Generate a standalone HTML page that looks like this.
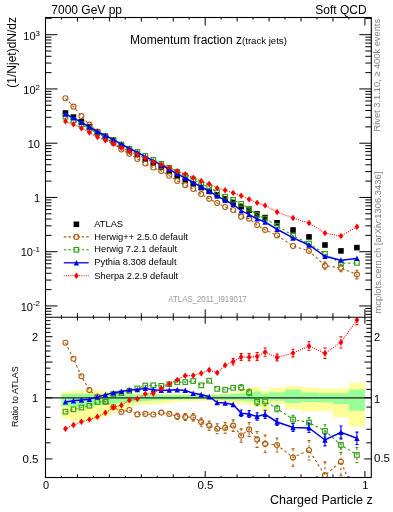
<!DOCTYPE html>
<html><head><meta charset="utf-8"><style>html,body{margin:0;padding:0;background:#fff;width:393px;height:512px;overflow:hidden}</style></head><body><svg width="393" height="512" viewBox="0 0 393 512" style="display:block;filter:grayscale(0.001)">
<rect width="393" height="512" fill="#fff"/>
<path d="M61.47,391.90 L69.45,391.90 L69.45,391.10 L77.44,391.10 L77.44,390.60 L85.42,390.60 L85.42,390.10 L93.41,390.10 L93.41,390.50 L101.39,390.50 L101.39,391.00 L109.38,391.00 L109.38,391.50 L117.37,391.50 L117.37,392.00 L125.35,392.00 L125.35,392.50 L133.33,392.50 L133.33,393.00 L141.32,393.00 L141.32,393.00 L149.31,393.00 L149.31,393.00 L157.29,393.00 L157.29,393.30 L165.27,393.30 L165.27,393.50 L173.26,393.50 L173.26,393.60 L181.24,393.60 L181.24,393.80 L189.23,393.80 L189.23,393.80 L197.22,393.80 L197.22,393.80 L205.20,393.80 L205.20,393.80 L213.19,393.80 L213.19,393.60 L221.17,393.60 L221.17,393.30 L229.16,393.30 L229.16,392.50 L237.14,392.50 L237.14,391.00 L245.13,391.00 L245.13,387.80 L253.11,387.80 L253.11,386.90 L261.10,386.90 L261.10,390.80 L269.08,390.80 L269.08,387.80 L285.05,387.80 L285.05,386.00 L301.02,386.00 L301.02,387.60 L316.99,387.60 L316.99,388.60 L332.96,388.60 L332.96,388.60 L348.93,388.60 L348.93,382.80 L364.90,382.80 L364.90,426.40 L348.93,426.40 L348.93,417.40 L332.96,417.40 L332.96,411.00 L316.99,411.00 L316.99,411.50 L301.02,411.50 L301.02,409.20 L285.05,409.20 L285.05,403.80 L269.08,403.80 L269.08,412.80 L261.10,412.80 L261.10,406.50 L253.11,406.50 L253.11,404.70 L245.13,404.70 L245.13,403.50 L237.14,403.50 L237.14,402.50 L229.16,402.50 L229.16,402.00 L221.17,402.00 L221.17,401.50 L213.19,401.50 L213.19,401.00 L205.20,401.00 L205.20,401.00 L197.22,401.00 L197.22,401.00 L189.23,401.00 L189.23,401.50 L181.24,401.50 L181.24,402.00 L173.26,402.00 L173.26,403.00 L165.27,403.00 L165.27,403.50 L157.29,403.50 L157.29,404.00 L149.31,404.00 L149.31,404.50 L141.32,404.50 L141.32,405.00 L133.33,405.00 L133.33,407.00 L125.35,407.00 L125.35,410.00 L117.37,410.00 L117.37,413.00 L109.38,413.00 L109.38,416.50 L101.39,416.50 L101.39,419.50 L93.41,419.50 L93.41,421.00 L85.42,421.00 L85.42,421.00 L77.44,421.00 L77.44,421.00 L69.45,421.00 L69.45,418.60 L61.47,418.60Z" fill="#ffff99"/>
<path d="M61.47,394.00 L69.45,394.00 L69.45,393.70 L77.44,393.70 L77.44,393.70 L85.42,393.70 L85.42,393.70 L93.41,393.70 L93.41,394.00 L101.39,394.00 L101.39,394.20 L109.38,394.20 L109.38,394.40 L117.37,394.40 L117.37,394.50 L125.35,394.50 L125.35,394.60 L133.33,394.60 L133.33,394.60 L141.32,394.60 L141.32,394.60 L149.31,394.60 L149.31,394.60 L157.29,394.60 L157.29,394.70 L165.27,394.70 L165.27,394.80 L173.26,394.80 L173.26,394.80 L181.24,394.80 L181.24,394.80 L189.23,394.80 L189.23,394.80 L197.22,394.80 L197.22,394.80 L205.20,394.80 L205.20,394.80 L213.19,394.80 L213.19,394.70 L221.17,394.70 L221.17,394.50 L229.16,394.50 L229.16,394.00 L237.14,394.00 L237.14,393.50 L245.13,393.50 L245.13,392.30 L253.11,392.30 L253.11,391.40 L261.10,391.40 L261.10,393.70 L269.08,393.70 L269.08,392.30 L285.05,392.30 L285.05,389.60 L301.02,389.60 L301.02,392.40 L316.99,392.40 L316.99,393.30 L332.96,393.30 L332.96,393.30 L348.93,393.30 L348.93,389.50 L364.90,389.50 L364.90,410.70 L348.93,410.70 L348.93,404.00 L332.96,404.00 L332.96,402.50 L316.99,402.50 L316.99,402.00 L301.02,402.00 L301.02,403.00 L285.05,403.00 L285.05,400.80 L269.08,400.80 L269.08,400.30 L261.10,400.30 L261.10,402.00 L253.11,402.00 L253.11,401.20 L245.13,401.20 L245.13,400.60 L237.14,400.60 L237.14,400.30 L229.16,400.30 L229.16,400.00 L221.17,400.00 L221.17,399.50 L213.19,399.50 L213.19,399.30 L205.20,399.30 L205.20,399.30 L197.22,399.30 L197.22,399.30 L189.23,399.30 L189.23,399.50 L181.24,399.50 L181.24,399.80 L173.26,399.80 L173.26,400.00 L165.27,400.00 L165.27,400.30 L157.29,400.30 L157.29,400.50 L149.31,400.50 L149.31,401.00 L141.32,401.00 L141.32,402.00 L133.33,402.00 L133.33,402.50 L125.35,402.50 L125.35,403.00 L117.37,403.00 L117.37,404.00 L109.38,404.00 L109.38,405.00 L101.39,405.00 L101.39,405.50 L93.41,405.50 L93.41,406.50 L85.42,406.50 L85.42,406.50 L77.44,406.50 L77.44,406.50 L69.45,406.50 L69.45,406.20 L61.47,406.20Z" fill="#99ff99"/>
<line x1="45.5" y1="397.8" x2="371.3" y2="397.8" stroke="#222" stroke-width="1.2"/>
<defs><clipPath id="cm"><rect x="45.5" y="17.5" width="325.8" height="299.8"/></clipPath><clipPath id="cr"><rect x="45.5" y="317.3" width="325.8" height="160.2"/></clipPath></defs>
<g clip-path="url(#cr)"><polyline points="65.46,342.70 73.45,358.70 81.43,376.30 89.42,390.10 97.40,396.50 105.39,401.70 113.37,407.00 121.36,411.90 129.34,410.00 137.33,414.40 145.31,413.90 153.30,414.50 161.28,412.60 169.27,413.90 177.25,416.40 185.24,417.00 193.22,417.20 201.21,422.10 209.19,425.60 217.18,428.70 225.16,427.90 233.15,425.60 241.13,435.50 249.12,429.40 257.10,439.40 265.09,443.90 277.06,445.00 293.03,457.50 309.00,450.20 324.97,475.20 340.94,461.70 356.91,498.80" fill="none" stroke="#ac5a0c" stroke-width="1.1" stroke-dasharray="2.5,2.5"/>
<g stroke="#ac5a0c" stroke-width="1.1"><line x1="177.25" y1="413.28" x2="177.25" y2="419.52" stroke-dasharray="2.5,2.5"/><line x1="175.75" y1="413.28" x2="178.75" y2="413.28"/><line x1="175.75" y1="419.52" x2="178.75" y2="419.52"/><line x1="185.24" y1="413.59" x2="185.24" y2="420.41" stroke-dasharray="2.5,2.5"/><line x1="183.74" y1="413.59" x2="186.74" y2="413.59"/><line x1="183.74" y1="420.41" x2="186.74" y2="420.41"/><line x1="193.22" y1="413.50" x2="193.22" y2="420.90" stroke-dasharray="2.5,2.5"/><line x1="191.72" y1="413.50" x2="194.72" y2="413.50"/><line x1="191.72" y1="420.90" x2="194.72" y2="420.90"/><line x1="201.21" y1="417.98" x2="201.21" y2="426.22" stroke-dasharray="2.5,2.5"/><line x1="199.71" y1="417.98" x2="202.71" y2="417.98"/><line x1="199.71" y1="426.22" x2="202.71" y2="426.22"/><line x1="209.19" y1="421.04" x2="209.19" y2="430.16" stroke-dasharray="2.5,2.5"/><line x1="207.69" y1="421.04" x2="210.69" y2="421.04"/><line x1="207.69" y1="430.16" x2="210.69" y2="430.16"/><line x1="217.18" y1="423.71" x2="217.18" y2="433.69" stroke-dasharray="2.5,2.5"/><line x1="215.68" y1="423.71" x2="218.68" y2="423.71"/><line x1="215.68" y1="433.69" x2="218.68" y2="433.69"/><line x1="225.16" y1="422.48" x2="225.16" y2="433.32" stroke-dasharray="2.5,2.5"/><line x1="223.66" y1="422.48" x2="226.66" y2="422.48"/><line x1="223.66" y1="433.32" x2="226.66" y2="433.32"/><line x1="233.15" y1="419.83" x2="233.15" y2="431.37" stroke-dasharray="2.5,2.5"/><line x1="231.65" y1="419.83" x2="234.65" y2="419.83"/><line x1="231.65" y1="431.37" x2="234.65" y2="431.37"/><line x1="241.13" y1="428.84" x2="241.13" y2="442.16" stroke-dasharray="2.5,2.5"/><line x1="239.63" y1="428.84" x2="242.63" y2="428.84"/><line x1="239.63" y1="442.16" x2="242.63" y2="442.16"/><line x1="249.12" y1="422.46" x2="249.12" y2="436.34" stroke-dasharray="2.5,2.5"/><line x1="247.62" y1="422.46" x2="250.62" y2="422.46"/><line x1="247.62" y1="436.34" x2="250.62" y2="436.34"/><line x1="257.10" y1="431.45" x2="257.10" y2="447.35" stroke-dasharray="2.5,2.5"/><line x1="255.60" y1="431.45" x2="258.60" y2="431.45"/><line x1="255.60" y1="447.35" x2="258.60" y2="447.35"/><line x1="265.09" y1="435.08" x2="265.09" y2="452.72" stroke-dasharray="2.5,2.5"/><line x1="263.59" y1="435.08" x2="266.59" y2="435.08"/><line x1="263.59" y1="452.72" x2="266.59" y2="452.72"/><line x1="277.06" y1="437.99" x2="277.06" y2="452.01" stroke-dasharray="2.5,2.5"/><line x1="275.56" y1="437.99" x2="278.56" y2="437.99"/><line x1="275.56" y1="452.01" x2="278.56" y2="452.01"/><line x1="293.03" y1="448.74" x2="293.03" y2="466.26" stroke-dasharray="2.5,2.5"/><line x1="291.53" y1="448.74" x2="294.53" y2="448.74"/><line x1="291.53" y1="466.26" x2="294.53" y2="466.26"/><line x1="309.00" y1="440.47" x2="309.00" y2="459.93" stroke-dasharray="2.5,2.5"/><line x1="307.50" y1="440.47" x2="310.50" y2="440.47"/><line x1="307.50" y1="459.93" x2="310.50" y2="459.93"/><line x1="324.97" y1="461.88" x2="324.97" y2="488.52" stroke-dasharray="2.5,2.5"/><line x1="323.47" y1="461.88" x2="326.47" y2="461.88"/><line x1="323.47" y1="488.52" x2="326.47" y2="488.52"/><line x1="340.94" y1="447.72" x2="340.94" y2="475.68" stroke-dasharray="2.5,2.5"/><line x1="339.44" y1="447.72" x2="342.44" y2="447.72"/><line x1="339.44" y1="475.68" x2="342.44" y2="475.68"/><line x1="356.91" y1="482.71" x2="356.91" y2="514.89" stroke-dasharray="2.5,2.5"/><line x1="355.41" y1="482.71" x2="358.41" y2="482.71"/><line x1="355.41" y1="514.89" x2="358.41" y2="514.89"/></g>
<circle cx="65.46" cy="342.70" r="2.5" fill="none" stroke="#ac5a0c" stroke-width="1.1"/>
<circle cx="73.45" cy="358.70" r="2.5" fill="none" stroke="#ac5a0c" stroke-width="1.1"/>
<circle cx="81.43" cy="376.30" r="2.5" fill="none" stroke="#ac5a0c" stroke-width="1.1"/>
<circle cx="89.42" cy="390.10" r="2.5" fill="none" stroke="#ac5a0c" stroke-width="1.1"/>
<circle cx="97.40" cy="396.50" r="2.5" fill="none" stroke="#ac5a0c" stroke-width="1.1"/>
<circle cx="105.39" cy="401.70" r="2.5" fill="none" stroke="#ac5a0c" stroke-width="1.1"/>
<circle cx="113.37" cy="407.00" r="2.5" fill="none" stroke="#ac5a0c" stroke-width="1.1"/>
<circle cx="121.36" cy="411.90" r="2.5" fill="none" stroke="#ac5a0c" stroke-width="1.1"/>
<circle cx="129.34" cy="410.00" r="2.5" fill="none" stroke="#ac5a0c" stroke-width="1.1"/>
<circle cx="137.33" cy="414.40" r="2.5" fill="none" stroke="#ac5a0c" stroke-width="1.1"/>
<circle cx="145.31" cy="413.90" r="2.5" fill="none" stroke="#ac5a0c" stroke-width="1.1"/>
<circle cx="153.30" cy="414.50" r="2.5" fill="none" stroke="#ac5a0c" stroke-width="1.1"/>
<circle cx="161.28" cy="412.60" r="2.5" fill="none" stroke="#ac5a0c" stroke-width="1.1"/>
<circle cx="169.27" cy="413.90" r="2.5" fill="none" stroke="#ac5a0c" stroke-width="1.1"/>
<circle cx="177.25" cy="416.40" r="2.5" fill="none" stroke="#ac5a0c" stroke-width="1.1"/>
<circle cx="185.24" cy="417.00" r="2.5" fill="none" stroke="#ac5a0c" stroke-width="1.1"/>
<circle cx="193.22" cy="417.20" r="2.5" fill="none" stroke="#ac5a0c" stroke-width="1.1"/>
<circle cx="201.21" cy="422.10" r="2.5" fill="none" stroke="#ac5a0c" stroke-width="1.1"/>
<circle cx="209.19" cy="425.60" r="2.5" fill="none" stroke="#ac5a0c" stroke-width="1.1"/>
<circle cx="217.18" cy="428.70" r="2.5" fill="none" stroke="#ac5a0c" stroke-width="1.1"/>
<circle cx="225.16" cy="427.90" r="2.5" fill="none" stroke="#ac5a0c" stroke-width="1.1"/>
<circle cx="233.15" cy="425.60" r="2.5" fill="none" stroke="#ac5a0c" stroke-width="1.1"/>
<circle cx="241.13" cy="435.50" r="2.5" fill="none" stroke="#ac5a0c" stroke-width="1.1"/>
<circle cx="249.12" cy="429.40" r="2.5" fill="none" stroke="#ac5a0c" stroke-width="1.1"/>
<circle cx="257.10" cy="439.40" r="2.5" fill="none" stroke="#ac5a0c" stroke-width="1.1"/>
<circle cx="265.09" cy="443.90" r="2.5" fill="none" stroke="#ac5a0c" stroke-width="1.1"/>
<circle cx="277.06" cy="445.00" r="2.5" fill="none" stroke="#ac5a0c" stroke-width="1.1"/>
<circle cx="293.03" cy="457.50" r="2.5" fill="none" stroke="#ac5a0c" stroke-width="1.1"/>
<circle cx="309.00" cy="450.20" r="2.5" fill="none" stroke="#ac5a0c" stroke-width="1.1"/>
<circle cx="324.97" cy="475.20" r="2.5" fill="none" stroke="#ac5a0c" stroke-width="1.1"/>
<circle cx="340.94" cy="461.70" r="2.5" fill="none" stroke="#ac5a0c" stroke-width="1.1"/>
<circle cx="356.91" cy="498.80" r="2.5" fill="none" stroke="#ac5a0c" stroke-width="1.1"/>
</g>
<g clip-path="url(#cr)"><polyline points="65.46,411.70 73.45,409.30 81.43,407.60 89.42,405.70 97.40,401.90 105.39,401.70 113.37,394.00 121.36,393.10 129.34,390.90 137.33,388.40 145.31,385.50 153.30,385.30 161.28,385.90 169.27,384.20 177.25,382.10 185.24,382.10 193.22,381.00 201.21,385.30 209.19,380.70 217.18,388.90 225.16,389.80 233.15,387.80 241.13,387.50 249.12,392.40 257.10,401.80 265.09,401.50 277.06,408.60 293.03,419.50 309.00,422.60 324.97,430.90 340.94,444.80 356.91,455.00" fill="none" stroke="#359e18" stroke-width="1.1" stroke-dasharray="2.5,2.5"/>
<g stroke="#359e18" stroke-width="1.1"><line x1="241.13" y1="384.46" x2="241.13" y2="390.54" stroke-dasharray="2.5,2.5"/><line x1="239.63" y1="384.46" x2="242.63" y2="384.46"/><line x1="239.63" y1="390.54" x2="242.63" y2="390.54"/><line x1="249.12" y1="389.02" x2="249.12" y2="395.78" stroke-dasharray="2.5,2.5"/><line x1="247.62" y1="389.02" x2="250.62" y2="389.02"/><line x1="247.62" y1="395.78" x2="250.62" y2="395.78"/><line x1="257.10" y1="397.95" x2="257.10" y2="405.65" stroke-dasharray="2.5,2.5"/><line x1="255.60" y1="397.95" x2="258.60" y2="397.95"/><line x1="255.60" y1="405.65" x2="258.60" y2="405.65"/><line x1="265.09" y1="397.34" x2="265.09" y2="405.66" stroke-dasharray="2.5,2.5"/><line x1="263.59" y1="397.34" x2="266.59" y2="397.34"/><line x1="263.59" y1="405.66" x2="266.59" y2="405.66"/><line x1="277.06" y1="405.18" x2="277.06" y2="412.02" stroke-dasharray="2.5,2.5"/><line x1="275.56" y1="405.18" x2="278.56" y2="405.18"/><line x1="275.56" y1="412.02" x2="278.56" y2="412.02"/><line x1="293.03" y1="415.26" x2="293.03" y2="423.74" stroke-dasharray="2.5,2.5"/><line x1="291.53" y1="415.26" x2="294.53" y2="415.26"/><line x1="291.53" y1="423.74" x2="294.53" y2="423.74"/><line x1="309.00" y1="417.61" x2="309.00" y2="427.59" stroke-dasharray="2.5,2.5"/><line x1="307.50" y1="417.61" x2="310.50" y2="417.61"/><line x1="307.50" y1="427.59" x2="310.50" y2="427.59"/><line x1="324.97" y1="424.68" x2="324.97" y2="437.12" stroke-dasharray="2.5,2.5"/><line x1="323.47" y1="424.68" x2="326.47" y2="424.68"/><line x1="323.47" y1="437.12" x2="326.47" y2="437.12"/><line x1="340.94" y1="437.18" x2="340.94" y2="452.42" stroke-dasharray="2.5,2.5"/><line x1="339.44" y1="437.18" x2="342.44" y2="437.18"/><line x1="339.44" y1="452.42" x2="342.44" y2="452.42"/><line x1="356.91" y1="447.47" x2="356.91" y2="462.53" stroke-dasharray="2.5,2.5"/><line x1="355.41" y1="447.47" x2="358.41" y2="447.47"/><line x1="355.41" y1="462.53" x2="358.41" y2="462.53"/></g>
<rect x="63.16" y="409.40" width="4.6" height="4.6" fill="none" stroke="#359e18" stroke-width="1.15"/>
<rect x="71.15" y="407.00" width="4.6" height="4.6" fill="none" stroke="#359e18" stroke-width="1.15"/>
<rect x="79.13" y="405.30" width="4.6" height="4.6" fill="none" stroke="#359e18" stroke-width="1.15"/>
<rect x="87.12" y="403.40" width="4.6" height="4.6" fill="none" stroke="#359e18" stroke-width="1.15"/>
<rect x="95.10" y="399.60" width="4.6" height="4.6" fill="none" stroke="#359e18" stroke-width="1.15"/>
<rect x="103.09" y="399.40" width="4.6" height="4.6" fill="none" stroke="#359e18" stroke-width="1.15"/>
<rect x="111.07" y="391.70" width="4.6" height="4.6" fill="none" stroke="#359e18" stroke-width="1.15"/>
<rect x="119.06" y="390.80" width="4.6" height="4.6" fill="none" stroke="#359e18" stroke-width="1.15"/>
<rect x="127.04" y="388.60" width="4.6" height="4.6" fill="none" stroke="#359e18" stroke-width="1.15"/>
<rect x="135.03" y="386.10" width="4.6" height="4.6" fill="none" stroke="#359e18" stroke-width="1.15"/>
<rect x="143.01" y="383.20" width="4.6" height="4.6" fill="none" stroke="#359e18" stroke-width="1.15"/>
<rect x="151.00" y="383.00" width="4.6" height="4.6" fill="none" stroke="#359e18" stroke-width="1.15"/>
<rect x="158.98" y="383.60" width="4.6" height="4.6" fill="none" stroke="#359e18" stroke-width="1.15"/>
<rect x="166.97" y="381.90" width="4.6" height="4.6" fill="none" stroke="#359e18" stroke-width="1.15"/>
<rect x="174.95" y="379.80" width="4.6" height="4.6" fill="none" stroke="#359e18" stroke-width="1.15"/>
<rect x="182.94" y="379.80" width="4.6" height="4.6" fill="none" stroke="#359e18" stroke-width="1.15"/>
<rect x="190.92" y="378.70" width="4.6" height="4.6" fill="none" stroke="#359e18" stroke-width="1.15"/>
<rect x="198.91" y="383.00" width="4.6" height="4.6" fill="none" stroke="#359e18" stroke-width="1.15"/>
<rect x="206.89" y="378.40" width="4.6" height="4.6" fill="none" stroke="#359e18" stroke-width="1.15"/>
<rect x="214.88" y="386.60" width="4.6" height="4.6" fill="none" stroke="#359e18" stroke-width="1.15"/>
<rect x="222.86" y="387.50" width="4.6" height="4.6" fill="none" stroke="#359e18" stroke-width="1.15"/>
<rect x="230.85" y="385.50" width="4.6" height="4.6" fill="none" stroke="#359e18" stroke-width="1.15"/>
<rect x="238.83" y="385.20" width="4.6" height="4.6" fill="none" stroke="#359e18" stroke-width="1.15"/>
<rect x="246.82" y="390.10" width="4.6" height="4.6" fill="none" stroke="#359e18" stroke-width="1.15"/>
<rect x="254.80" y="399.50" width="4.6" height="4.6" fill="none" stroke="#359e18" stroke-width="1.15"/>
<rect x="262.79" y="399.20" width="4.6" height="4.6" fill="none" stroke="#359e18" stroke-width="1.15"/>
<rect x="274.76" y="406.30" width="4.6" height="4.6" fill="none" stroke="#359e18" stroke-width="1.15"/>
<rect x="290.73" y="417.20" width="4.6" height="4.6" fill="none" stroke="#359e18" stroke-width="1.15"/>
<rect x="306.70" y="420.30" width="4.6" height="4.6" fill="none" stroke="#359e18" stroke-width="1.15"/>
<rect x="322.67" y="428.60" width="4.6" height="4.6" fill="none" stroke="#359e18" stroke-width="1.15"/>
<rect x="338.64" y="442.50" width="4.6" height="4.6" fill="none" stroke="#359e18" stroke-width="1.15"/>
<rect x="354.61" y="452.70" width="4.6" height="4.6" fill="none" stroke="#359e18" stroke-width="1.15"/>
</g>
<g clip-path="url(#cr)"><polyline points="65.46,401.90 73.45,400.70 81.43,400.00 89.42,399.30 97.40,396.90 105.39,394.70 113.37,392.80 121.36,391.50 129.34,389.90 137.33,389.60 145.31,388.40 153.30,389.70 161.28,390.40 169.27,390.10 177.25,389.70 185.24,390.40 193.22,393.30 201.21,394.60 209.19,396.70 217.18,402.50 225.16,403.10 233.15,404.50 241.13,413.20 249.12,414.10 257.10,416.50 265.09,414.30 277.06,422.00 293.03,427.50 309.00,427.90 324.97,440.00 340.94,432.40 356.91,438.30" fill="none" stroke="#0000f0" stroke-width="1.5"/>
<g stroke="#0000f0" stroke-width="1.1"><line x1="241.13" y1="410.02" x2="241.13" y2="416.38"/><line x1="239.63" y1="410.02" x2="242.63" y2="410.02"/><line x1="239.63" y1="416.38" x2="242.63" y2="416.38"/><line x1="249.12" y1="410.64" x2="249.12" y2="417.56"/><line x1="247.62" y1="410.64" x2="250.62" y2="410.64"/><line x1="247.62" y1="417.56" x2="250.62" y2="417.56"/><line x1="257.10" y1="412.71" x2="257.10" y2="420.29"/><line x1="255.60" y1="412.71" x2="258.60" y2="412.71"/><line x1="255.60" y1="420.29" x2="258.60" y2="420.29"/><line x1="265.09" y1="410.25" x2="265.09" y2="418.35"/><line x1="263.59" y1="410.25" x2="266.59" y2="410.25"/><line x1="263.59" y1="418.35" x2="266.59" y2="418.35"/><line x1="277.06" y1="418.66" x2="277.06" y2="425.34"/><line x1="275.56" y1="418.66" x2="278.56" y2="418.66"/><line x1="275.56" y1="425.34" x2="278.56" y2="425.34"/><line x1="293.03" y1="423.49" x2="293.03" y2="431.51"/><line x1="291.53" y1="423.49" x2="294.53" y2="423.49"/><line x1="291.53" y1="431.51" x2="294.53" y2="431.51"/><line x1="309.00" y1="423.24" x2="309.00" y2="432.56"/><line x1="307.50" y1="423.24" x2="310.50" y2="423.24"/><line x1="307.50" y1="432.56" x2="310.50" y2="432.56"/><line x1="324.97" y1="434.08" x2="324.97" y2="445.92"/><line x1="323.47" y1="434.08" x2="326.47" y2="434.08"/><line x1="323.47" y1="445.92" x2="326.47" y2="445.92"/><line x1="340.94" y1="425.97" x2="340.94" y2="438.83"/><line x1="339.44" y1="425.97" x2="342.44" y2="425.97"/><line x1="339.44" y1="438.83" x2="342.44" y2="438.83"/><line x1="356.91" y1="432.10" x2="356.91" y2="444.50"/><line x1="355.41" y1="432.10" x2="358.41" y2="432.10"/><line x1="355.41" y1="444.50" x2="358.41" y2="444.50"/></g>
<path d="M65.46,399.00L68.16,404.60L62.76,404.60Z" fill="#0000f0"/>
<path d="M73.45,397.80L76.15,403.40L70.75,403.40Z" fill="#0000f0"/>
<path d="M81.43,397.10L84.13,402.70L78.73,402.70Z" fill="#0000f0"/>
<path d="M89.42,396.40L92.12,402.00L86.72,402.00Z" fill="#0000f0"/>
<path d="M97.40,394.00L100.10,399.60L94.70,399.60Z" fill="#0000f0"/>
<path d="M105.39,391.80L108.09,397.40L102.69,397.40Z" fill="#0000f0"/>
<path d="M113.37,389.90L116.07,395.50L110.67,395.50Z" fill="#0000f0"/>
<path d="M121.36,388.60L124.06,394.20L118.66,394.20Z" fill="#0000f0"/>
<path d="M129.34,387.00L132.04,392.60L126.64,392.60Z" fill="#0000f0"/>
<path d="M137.33,386.70L140.03,392.30L134.63,392.30Z" fill="#0000f0"/>
<path d="M145.31,385.50L148.01,391.10L142.61,391.10Z" fill="#0000f0"/>
<path d="M153.30,386.80L156.00,392.40L150.60,392.40Z" fill="#0000f0"/>
<path d="M161.28,387.50L163.98,393.10L158.58,393.10Z" fill="#0000f0"/>
<path d="M169.27,387.20L171.97,392.80L166.57,392.80Z" fill="#0000f0"/>
<path d="M177.25,386.80L179.95,392.40L174.55,392.40Z" fill="#0000f0"/>
<path d="M185.24,387.50L187.94,393.10L182.54,393.10Z" fill="#0000f0"/>
<path d="M193.22,390.40L195.92,396.00L190.52,396.00Z" fill="#0000f0"/>
<path d="M201.21,391.70L203.91,397.30L198.51,397.30Z" fill="#0000f0"/>
<path d="M209.19,393.80L211.89,399.40L206.49,399.40Z" fill="#0000f0"/>
<path d="M217.18,399.60L219.88,405.20L214.48,405.20Z" fill="#0000f0"/>
<path d="M225.16,400.20L227.86,405.80L222.46,405.80Z" fill="#0000f0"/>
<path d="M233.15,401.60L235.85,407.20L230.45,407.20Z" fill="#0000f0"/>
<path d="M241.13,410.30L243.83,415.90L238.43,415.90Z" fill="#0000f0"/>
<path d="M249.12,411.20L251.82,416.80L246.42,416.80Z" fill="#0000f0"/>
<path d="M257.10,413.60L259.80,419.20L254.40,419.20Z" fill="#0000f0"/>
<path d="M265.09,411.40L267.79,417.00L262.39,417.00Z" fill="#0000f0"/>
<path d="M277.06,419.10L279.76,424.70L274.36,424.70Z" fill="#0000f0"/>
<path d="M293.03,424.60L295.73,430.20L290.33,430.20Z" fill="#0000f0"/>
<path d="M309.00,425.00L311.70,430.60L306.31,430.60Z" fill="#0000f0"/>
<path d="M324.97,437.10L327.67,442.70L322.27,442.70Z" fill="#0000f0"/>
<path d="M340.94,429.50L343.64,435.10L338.25,435.10Z" fill="#0000f0"/>
<path d="M356.91,435.40L359.61,441.00L354.21,441.00Z" fill="#0000f0"/>
</g>
<g clip-path="url(#cr)"><polyline points="65.46,428.80 73.45,425.00 81.43,421.80 89.42,419.60 97.40,416.80 105.39,412.80 113.37,407.50 121.36,405.20 129.34,400.20 137.33,398.90 145.31,393.90 153.30,393.50 161.28,388.40 169.27,384.00 177.25,379.90 185.24,375.70 193.22,375.50 201.21,373.20 209.19,370.00 217.18,372.80 225.16,365.20 233.15,361.80 241.13,357.00 249.12,357.20 257.10,356.50 265.09,352.10 277.06,357.50 293.03,353.10 309.00,346.00 324.97,353.30 340.94,342.40 356.91,320.00" fill="none" stroke="#ff0000" stroke-width="1.1" stroke-dasharray="1,1.2"/>
<g stroke="#ff0000" stroke-width="1.1"><line x1="233.15" y1="358.64" x2="233.15" y2="364.96" stroke-dasharray="1,1.2"/><line x1="231.65" y1="358.64" x2="234.65" y2="358.64"/><line x1="231.65" y1="364.96" x2="234.65" y2="364.96"/><line x1="241.13" y1="353.65" x2="241.13" y2="360.35" stroke-dasharray="1,1.2"/><line x1="239.63" y1="353.65" x2="242.63" y2="353.65"/><line x1="239.63" y1="360.35" x2="242.63" y2="360.35"/><line x1="249.12" y1="353.58" x2="249.12" y2="360.82" stroke-dasharray="1,1.2"/><line x1="247.62" y1="353.58" x2="250.62" y2="353.58"/><line x1="247.62" y1="360.82" x2="250.62" y2="360.82"/><line x1="257.10" y1="352.60" x2="257.10" y2="360.40" stroke-dasharray="1,1.2"/><line x1="255.60" y1="352.60" x2="258.60" y2="352.60"/><line x1="255.60" y1="360.40" x2="258.60" y2="360.40"/><line x1="265.09" y1="347.98" x2="265.09" y2="356.22" stroke-dasharray="1,1.2"/><line x1="263.59" y1="347.98" x2="266.59" y2="347.98"/><line x1="263.59" y1="356.22" x2="266.59" y2="356.22"/><line x1="277.06" y1="354.15" x2="277.06" y2="360.85" stroke-dasharray="1,1.2"/><line x1="275.56" y1="354.15" x2="278.56" y2="354.15"/><line x1="275.56" y1="360.85" x2="278.56" y2="360.85"/><line x1="293.03" y1="349.29" x2="293.03" y2="356.91" stroke-dasharray="1,1.2"/><line x1="291.53" y1="349.29" x2="294.53" y2="349.29"/><line x1="291.53" y1="356.91" x2="294.53" y2="356.91"/><line x1="309.00" y1="341.76" x2="309.00" y2="350.24" stroke-dasharray="1,1.2"/><line x1="307.50" y1="341.76" x2="310.50" y2="341.76"/><line x1="307.50" y1="350.24" x2="310.50" y2="350.24"/><line x1="324.97" y1="348.06" x2="324.97" y2="358.54" stroke-dasharray="1,1.2"/><line x1="323.47" y1="348.06" x2="326.47" y2="348.06"/><line x1="323.47" y1="358.54" x2="326.47" y2="358.54"/><line x1="340.94" y1="336.81" x2="340.94" y2="347.99" stroke-dasharray="1,1.2"/><line x1="339.44" y1="336.81" x2="342.44" y2="336.81"/><line x1="339.44" y1="347.99" x2="342.44" y2="347.99"/><line x1="356.91" y1="315.41" x2="356.91" y2="324.59" stroke-dasharray="1,1.2"/><line x1="355.41" y1="315.41" x2="358.41" y2="315.41"/><line x1="355.41" y1="324.59" x2="358.41" y2="324.59"/></g>
<path d="M65.46,425.60L67.86,428.80L65.46,432.00L63.06,428.80Z" fill="#ff0000"/>
<path d="M73.45,421.80L75.85,425.00L73.45,428.20L71.05,425.00Z" fill="#ff0000"/>
<path d="M81.43,418.60L83.83,421.80L81.43,425.00L79.03,421.80Z" fill="#ff0000"/>
<path d="M89.42,416.40L91.82,419.60L89.42,422.80L87.02,419.60Z" fill="#ff0000"/>
<path d="M97.40,413.60L99.80,416.80L97.40,420.00L95.00,416.80Z" fill="#ff0000"/>
<path d="M105.39,409.60L107.79,412.80L105.39,416.00L102.99,412.80Z" fill="#ff0000"/>
<path d="M113.37,404.30L115.77,407.50L113.37,410.70L110.97,407.50Z" fill="#ff0000"/>
<path d="M121.36,402.00L123.76,405.20L121.36,408.40L118.96,405.20Z" fill="#ff0000"/>
<path d="M129.34,397.00L131.74,400.20L129.34,403.40L126.94,400.20Z" fill="#ff0000"/>
<path d="M137.33,395.70L139.73,398.90L137.33,402.10L134.93,398.90Z" fill="#ff0000"/>
<path d="M145.31,390.70L147.71,393.90L145.31,397.10L142.91,393.90Z" fill="#ff0000"/>
<path d="M153.30,390.30L155.70,393.50L153.30,396.70L150.90,393.50Z" fill="#ff0000"/>
<path d="M161.28,385.20L163.68,388.40L161.28,391.60L158.88,388.40Z" fill="#ff0000"/>
<path d="M169.27,380.80L171.67,384.00L169.27,387.20L166.87,384.00Z" fill="#ff0000"/>
<path d="M177.25,376.70L179.65,379.90L177.25,383.10L174.85,379.90Z" fill="#ff0000"/>
<path d="M185.24,372.50L187.64,375.70L185.24,378.90L182.84,375.70Z" fill="#ff0000"/>
<path d="M193.22,372.30L195.62,375.50L193.22,378.70L190.82,375.50Z" fill="#ff0000"/>
<path d="M201.21,370.00L203.61,373.20L201.21,376.40L198.81,373.20Z" fill="#ff0000"/>
<path d="M209.19,366.80L211.59,370.00L209.19,373.20L206.79,370.00Z" fill="#ff0000"/>
<path d="M217.18,369.60L219.58,372.80L217.18,376.00L214.78,372.80Z" fill="#ff0000"/>
<path d="M225.16,362.00L227.56,365.20L225.16,368.40L222.76,365.20Z" fill="#ff0000"/>
<path d="M233.15,358.60L235.55,361.80L233.15,365.00L230.75,361.80Z" fill="#ff0000"/>
<path d="M241.13,353.80L243.53,357.00L241.13,360.20L238.73,357.00Z" fill="#ff0000"/>
<path d="M249.12,354.00L251.52,357.20L249.12,360.40L246.72,357.20Z" fill="#ff0000"/>
<path d="M257.10,353.30L259.50,356.50L257.10,359.70L254.70,356.50Z" fill="#ff0000"/>
<path d="M265.09,348.90L267.49,352.10L265.09,355.30L262.69,352.10Z" fill="#ff0000"/>
<path d="M277.06,354.30L279.46,357.50L277.06,360.70L274.66,357.50Z" fill="#ff0000"/>
<path d="M293.03,349.90L295.43,353.10L293.03,356.30L290.63,353.10Z" fill="#ff0000"/>
<path d="M309.00,342.80L311.40,346.00L309.00,349.20L306.61,346.00Z" fill="#ff0000"/>
<path d="M324.97,350.10L327.37,353.30L324.97,356.50L322.57,353.30Z" fill="#ff0000"/>
<path d="M340.94,339.20L343.34,342.40L340.94,345.60L338.55,342.40Z" fill="#ff0000"/>
<path d="M356.91,316.80L359.31,320.00L356.91,323.20L354.51,320.00Z" fill="#ff0000"/>
</g>
<g clip-path="url(#cm)">
<rect x="62.66" y="110.20" width="5.6" height="5.6" fill="#000"/>
<rect x="70.65" y="114.30" width="5.6" height="5.6" fill="#000"/>
<rect x="78.63" y="119.00" width="5.6" height="5.6" fill="#000"/>
<rect x="86.62" y="123.90" width="5.6" height="5.6" fill="#000"/>
<rect x="94.60" y="129.20" width="5.6" height="5.6" fill="#000"/>
<rect x="102.59" y="133.50" width="5.6" height="5.6" fill="#000"/>
<rect x="110.57" y="138.10" width="5.6" height="5.6" fill="#000"/>
<rect x="118.56" y="143.00" width="5.6" height="5.6" fill="#000"/>
<rect x="126.54" y="147.80" width="5.6" height="5.6" fill="#000"/>
<rect x="134.53" y="151.70" width="5.6" height="5.6" fill="#000"/>
<rect x="142.51" y="156.40" width="5.6" height="5.6" fill="#000"/>
<rect x="150.50" y="160.30" width="5.6" height="5.6" fill="#000"/>
<rect x="158.48" y="164.30" width="5.6" height="5.6" fill="#000"/>
<rect x="166.47" y="168.60" width="5.6" height="5.6" fill="#000"/>
<rect x="174.45" y="173.20" width="5.6" height="5.6" fill="#000"/>
<rect x="182.44" y="177.20" width="5.6" height="5.6" fill="#000"/>
<rect x="190.42" y="181.00" width="5.6" height="5.6" fill="#000"/>
<rect x="198.41" y="184.80" width="5.6" height="5.6" fill="#000"/>
<rect x="206.39" y="188.60" width="5.6" height="5.6" fill="#000"/>
<rect x="214.38" y="192.00" width="5.6" height="5.6" fill="#000"/>
<rect x="222.36" y="196.10" width="5.6" height="5.6" fill="#000"/>
<rect x="230.35" y="199.70" width="5.6" height="5.6" fill="#000"/>
<rect x="238.33" y="203.80" width="5.6" height="5.6" fill="#000"/>
<rect x="246.32" y="207.40" width="5.6" height="5.6" fill="#000"/>
<rect x="254.30" y="211.10" width="5.6" height="5.6" fill="#000"/>
<rect x="262.29" y="214.80" width="5.6" height="5.6" fill="#000"/>
<rect x="274.26" y="220.00" width="5.6" height="5.6" fill="#000"/>
<rect x="290.23" y="227.20" width="5.6" height="5.6" fill="#000"/>
<rect x="306.20" y="234.10" width="5.6" height="5.6" fill="#000"/>
<rect x="322.17" y="242.20" width="5.6" height="5.6" fill="#000"/>
<rect x="338.14" y="248.10" width="5.6" height="5.6" fill="#000"/>
<rect x="354.11" y="244.80" width="5.6" height="5.6" fill="#000"/>
</g>
<g clip-path="url(#cm)"><polyline points="65.46,98.27 73.45,106.65 81.43,116.05 89.42,124.64 97.40,131.65 105.39,137.34 113.37,143.36 121.36,149.57 129.34,153.86 137.33,158.94 145.31,163.50 153.30,167.56 161.28,171.06 169.27,175.70 177.25,180.97 185.24,185.13 193.22,188.98 201.21,194.09 209.19,198.83 217.18,203.06 225.16,206.94 233.15,209.93 241.13,216.67 249.12,218.64 257.10,225.02 265.09,229.92 277.06,235.41 293.03,245.95 309.00,250.90 324.97,265.68 340.94,267.98 356.91,274.59" fill="none" stroke="#ac5a0c" stroke-width="1.1" stroke-dasharray="2.5,2.5"/>
<g stroke="#ac5a0c" stroke-width="1.1"><line x1="324.97" y1="262.12" x2="324.97" y2="269.24" stroke-dasharray="2.5,2.5"/><line x1="323.47" y1="262.12" x2="326.47" y2="262.12"/><line x1="323.47" y1="269.24" x2="326.47" y2="269.24"/><line x1="340.94" y1="264.24" x2="340.94" y2="271.71" stroke-dasharray="2.5,2.5"/><line x1="339.44" y1="264.24" x2="342.44" y2="264.24"/><line x1="339.44" y1="271.71" x2="342.44" y2="271.71"/><line x1="356.91" y1="270.29" x2="356.91" y2="278.89" stroke-dasharray="2.5,2.5"/><line x1="355.41" y1="270.29" x2="358.41" y2="270.29"/><line x1="355.41" y1="278.89" x2="358.41" y2="278.89"/></g>
<circle cx="65.46" cy="98.27" r="2.5" fill="none" stroke="#ac5a0c" stroke-width="1.1"/>
<circle cx="73.45" cy="106.65" r="2.5" fill="none" stroke="#ac5a0c" stroke-width="1.1"/>
<circle cx="81.43" cy="116.05" r="2.5" fill="none" stroke="#ac5a0c" stroke-width="1.1"/>
<circle cx="89.42" cy="124.64" r="2.5" fill="none" stroke="#ac5a0c" stroke-width="1.1"/>
<circle cx="97.40" cy="131.65" r="2.5" fill="none" stroke="#ac5a0c" stroke-width="1.1"/>
<circle cx="105.39" cy="137.34" r="2.5" fill="none" stroke="#ac5a0c" stroke-width="1.1"/>
<circle cx="113.37" cy="143.36" r="2.5" fill="none" stroke="#ac5a0c" stroke-width="1.1"/>
<circle cx="121.36" cy="149.57" r="2.5" fill="none" stroke="#ac5a0c" stroke-width="1.1"/>
<circle cx="129.34" cy="153.86" r="2.5" fill="none" stroke="#ac5a0c" stroke-width="1.1"/>
<circle cx="137.33" cy="158.94" r="2.5" fill="none" stroke="#ac5a0c" stroke-width="1.1"/>
<circle cx="145.31" cy="163.50" r="2.5" fill="none" stroke="#ac5a0c" stroke-width="1.1"/>
<circle cx="153.30" cy="167.56" r="2.5" fill="none" stroke="#ac5a0c" stroke-width="1.1"/>
<circle cx="161.28" cy="171.06" r="2.5" fill="none" stroke="#ac5a0c" stroke-width="1.1"/>
<circle cx="169.27" cy="175.70" r="2.5" fill="none" stroke="#ac5a0c" stroke-width="1.1"/>
<circle cx="177.25" cy="180.97" r="2.5" fill="none" stroke="#ac5a0c" stroke-width="1.1"/>
<circle cx="185.24" cy="185.13" r="2.5" fill="none" stroke="#ac5a0c" stroke-width="1.1"/>
<circle cx="193.22" cy="188.98" r="2.5" fill="none" stroke="#ac5a0c" stroke-width="1.1"/>
<circle cx="201.21" cy="194.09" r="2.5" fill="none" stroke="#ac5a0c" stroke-width="1.1"/>
<circle cx="209.19" cy="198.83" r="2.5" fill="none" stroke="#ac5a0c" stroke-width="1.1"/>
<circle cx="217.18" cy="203.06" r="2.5" fill="none" stroke="#ac5a0c" stroke-width="1.1"/>
<circle cx="225.16" cy="206.94" r="2.5" fill="none" stroke="#ac5a0c" stroke-width="1.1"/>
<circle cx="233.15" cy="209.93" r="2.5" fill="none" stroke="#ac5a0c" stroke-width="1.1"/>
<circle cx="241.13" cy="216.67" r="2.5" fill="none" stroke="#ac5a0c" stroke-width="1.1"/>
<circle cx="249.12" cy="218.64" r="2.5" fill="none" stroke="#ac5a0c" stroke-width="1.1"/>
<circle cx="257.10" cy="225.02" r="2.5" fill="none" stroke="#ac5a0c" stroke-width="1.1"/>
<circle cx="265.09" cy="229.92" r="2.5" fill="none" stroke="#ac5a0c" stroke-width="1.1"/>
<circle cx="277.06" cy="235.41" r="2.5" fill="none" stroke="#ac5a0c" stroke-width="1.1"/>
<circle cx="293.03" cy="245.95" r="2.5" fill="none" stroke="#ac5a0c" stroke-width="1.1"/>
<circle cx="309.00" cy="250.90" r="2.5" fill="none" stroke="#ac5a0c" stroke-width="1.1"/>
<circle cx="324.97" cy="265.68" r="2.5" fill="none" stroke="#ac5a0c" stroke-width="1.1"/>
<circle cx="340.94" cy="267.98" r="2.5" fill="none" stroke="#ac5a0c" stroke-width="1.1"/>
<circle cx="356.91" cy="274.59" r="2.5" fill="none" stroke="#ac5a0c" stroke-width="1.1"/>
</g>
<g clip-path="url(#cm)"><polyline points="65.46,116.71 73.45,120.17 81.43,124.42 89.42,128.81 97.40,133.10 105.39,137.34 113.37,139.88 121.36,144.54 129.34,148.76 137.33,151.99 145.31,155.91 153.30,159.76 161.28,163.92 169.27,167.77 177.25,171.80 185.24,175.80 193.22,179.31 201.21,184.26 209.19,186.83 217.18,192.42 225.16,196.76 233.15,199.83 241.13,203.85 249.12,208.76 257.10,214.97 265.09,218.59 277.06,225.69 293.03,235.80 309.00,243.53 324.97,253.85 340.94,263.46 356.91,262.89" fill="none" stroke="#359e18" stroke-width="1.1" stroke-dasharray="2.5,2.5"/>
<g stroke="#359e18" stroke-width="1.1"></g>
<rect x="63.16" y="114.41" width="4.6" height="4.6" fill="none" stroke="#359e18" stroke-width="1.15"/>
<rect x="71.15" y="117.87" width="4.6" height="4.6" fill="none" stroke="#359e18" stroke-width="1.15"/>
<rect x="79.13" y="122.12" width="4.6" height="4.6" fill="none" stroke="#359e18" stroke-width="1.15"/>
<rect x="87.12" y="126.51" width="4.6" height="4.6" fill="none" stroke="#359e18" stroke-width="1.15"/>
<rect x="95.10" y="130.80" width="4.6" height="4.6" fill="none" stroke="#359e18" stroke-width="1.15"/>
<rect x="103.09" y="135.04" width="4.6" height="4.6" fill="none" stroke="#359e18" stroke-width="1.15"/>
<rect x="111.07" y="137.58" width="4.6" height="4.6" fill="none" stroke="#359e18" stroke-width="1.15"/>
<rect x="119.06" y="142.24" width="4.6" height="4.6" fill="none" stroke="#359e18" stroke-width="1.15"/>
<rect x="127.04" y="146.46" width="4.6" height="4.6" fill="none" stroke="#359e18" stroke-width="1.15"/>
<rect x="135.03" y="149.69" width="4.6" height="4.6" fill="none" stroke="#359e18" stroke-width="1.15"/>
<rect x="143.01" y="153.61" width="4.6" height="4.6" fill="none" stroke="#359e18" stroke-width="1.15"/>
<rect x="151.00" y="157.46" width="4.6" height="4.6" fill="none" stroke="#359e18" stroke-width="1.15"/>
<rect x="158.98" y="161.62" width="4.6" height="4.6" fill="none" stroke="#359e18" stroke-width="1.15"/>
<rect x="166.97" y="165.47" width="4.6" height="4.6" fill="none" stroke="#359e18" stroke-width="1.15"/>
<rect x="174.95" y="169.50" width="4.6" height="4.6" fill="none" stroke="#359e18" stroke-width="1.15"/>
<rect x="182.94" y="173.50" width="4.6" height="4.6" fill="none" stroke="#359e18" stroke-width="1.15"/>
<rect x="190.92" y="177.01" width="4.6" height="4.6" fill="none" stroke="#359e18" stroke-width="1.15"/>
<rect x="198.91" y="181.96" width="4.6" height="4.6" fill="none" stroke="#359e18" stroke-width="1.15"/>
<rect x="206.89" y="184.53" width="4.6" height="4.6" fill="none" stroke="#359e18" stroke-width="1.15"/>
<rect x="214.88" y="190.12" width="4.6" height="4.6" fill="none" stroke="#359e18" stroke-width="1.15"/>
<rect x="222.86" y="194.46" width="4.6" height="4.6" fill="none" stroke="#359e18" stroke-width="1.15"/>
<rect x="230.85" y="197.53" width="4.6" height="4.6" fill="none" stroke="#359e18" stroke-width="1.15"/>
<rect x="238.83" y="201.55" width="4.6" height="4.6" fill="none" stroke="#359e18" stroke-width="1.15"/>
<rect x="246.82" y="206.46" width="4.6" height="4.6" fill="none" stroke="#359e18" stroke-width="1.15"/>
<rect x="254.80" y="212.67" width="4.6" height="4.6" fill="none" stroke="#359e18" stroke-width="1.15"/>
<rect x="262.79" y="216.29" width="4.6" height="4.6" fill="none" stroke="#359e18" stroke-width="1.15"/>
<rect x="274.76" y="223.39" width="4.6" height="4.6" fill="none" stroke="#359e18" stroke-width="1.15"/>
<rect x="290.73" y="233.50" width="4.6" height="4.6" fill="none" stroke="#359e18" stroke-width="1.15"/>
<rect x="306.70" y="241.23" width="4.6" height="4.6" fill="none" stroke="#359e18" stroke-width="1.15"/>
<rect x="322.67" y="251.55" width="4.6" height="4.6" fill="none" stroke="#359e18" stroke-width="1.15"/>
<rect x="338.64" y="261.16" width="4.6" height="4.6" fill="none" stroke="#359e18" stroke-width="1.15"/>
<rect x="354.61" y="260.59" width="4.6" height="4.6" fill="none" stroke="#359e18" stroke-width="1.15"/>
</g>
<g clip-path="url(#cm)"><polyline points="65.46,114.10 73.45,117.87 81.43,122.39 89.42,127.10 97.40,131.76 105.39,135.47 113.37,139.56 121.36,144.12 129.34,148.49 137.33,152.31 145.31,156.69 153.30,160.94 161.28,165.12 169.27,169.34 177.25,173.84 185.24,178.02 193.22,182.60 201.21,186.74 209.19,191.11 217.18,196.06 225.16,200.32 233.15,204.29 241.13,210.72 249.12,214.56 257.10,218.90 265.09,222.01 277.06,229.27 293.03,237.94 309.00,244.94 324.97,256.28 340.94,260.15 356.91,258.42" fill="none" stroke="#0000f0" stroke-width="1.5"/>
<g stroke="#0000f0" stroke-width="1.1"></g>
<path d="M65.46,111.20L68.16,116.80L62.76,116.80Z" fill="#0000f0"/>
<path d="M73.45,114.97L76.15,120.57L70.75,120.57Z" fill="#0000f0"/>
<path d="M81.43,119.49L84.13,125.09L78.73,125.09Z" fill="#0000f0"/>
<path d="M89.42,124.20L92.12,129.80L86.72,129.80Z" fill="#0000f0"/>
<path d="M97.40,128.86L100.10,134.46L94.70,134.46Z" fill="#0000f0"/>
<path d="M105.39,132.57L108.09,138.17L102.69,138.17Z" fill="#0000f0"/>
<path d="M113.37,136.66L116.07,142.26L110.67,142.26Z" fill="#0000f0"/>
<path d="M121.36,141.22L124.06,146.82L118.66,146.82Z" fill="#0000f0"/>
<path d="M129.34,145.59L132.04,151.19L126.64,151.19Z" fill="#0000f0"/>
<path d="M137.33,149.41L140.03,155.01L134.63,155.01Z" fill="#0000f0"/>
<path d="M145.31,153.79L148.01,159.39L142.61,159.39Z" fill="#0000f0"/>
<path d="M153.30,158.04L156.00,163.64L150.60,163.64Z" fill="#0000f0"/>
<path d="M161.28,162.22L163.98,167.82L158.58,167.82Z" fill="#0000f0"/>
<path d="M169.27,166.44L171.97,172.04L166.57,172.04Z" fill="#0000f0"/>
<path d="M177.25,170.94L179.95,176.54L174.55,176.54Z" fill="#0000f0"/>
<path d="M185.24,175.12L187.94,180.72L182.54,180.72Z" fill="#0000f0"/>
<path d="M193.22,179.70L195.92,185.30L190.52,185.30Z" fill="#0000f0"/>
<path d="M201.21,183.84L203.91,189.44L198.51,189.44Z" fill="#0000f0"/>
<path d="M209.19,188.21L211.89,193.81L206.49,193.81Z" fill="#0000f0"/>
<path d="M217.18,193.16L219.88,198.76L214.48,198.76Z" fill="#0000f0"/>
<path d="M225.16,197.42L227.86,203.02L222.46,203.02Z" fill="#0000f0"/>
<path d="M233.15,201.39L235.85,206.99L230.45,206.99Z" fill="#0000f0"/>
<path d="M241.13,207.82L243.83,213.42L238.43,213.42Z" fill="#0000f0"/>
<path d="M249.12,211.66L251.82,217.26L246.42,217.26Z" fill="#0000f0"/>
<path d="M257.10,216.00L259.80,221.60L254.40,221.60Z" fill="#0000f0"/>
<path d="M265.09,219.11L267.79,224.71L262.39,224.71Z" fill="#0000f0"/>
<path d="M277.06,226.37L279.76,231.97L274.36,231.97Z" fill="#0000f0"/>
<path d="M293.03,235.04L295.73,240.64L290.33,240.64Z" fill="#0000f0"/>
<path d="M309.00,242.04L311.70,247.64L306.31,247.64Z" fill="#0000f0"/>
<path d="M324.97,253.38L327.67,258.98L322.27,258.98Z" fill="#0000f0"/>
<path d="M340.94,257.25L343.64,262.85L338.25,262.85Z" fill="#0000f0"/>
<path d="M356.91,255.52L359.61,261.12L354.21,261.12Z" fill="#0000f0"/>
</g>
<g clip-path="url(#cm)"><polyline points="65.46,121.28 73.45,124.37 81.43,128.21 89.42,132.53 97.40,137.08 105.39,140.31 113.37,143.49 121.36,147.78 129.34,151.24 137.33,154.79 145.31,158.16 153.30,161.95 161.28,164.59 169.27,167.71 177.25,171.22 185.24,174.09 193.22,177.84 201.21,181.03 209.19,183.97 217.18,188.12 225.16,190.19 233.15,192.88 241.13,195.70 249.12,199.35 257.10,202.86 265.09,205.39 277.06,212.03 293.03,218.05 309.00,223.06 324.97,233.11 340.94,236.09 356.91,226.81" fill="none" stroke="#ff0000" stroke-width="1.1" stroke-dasharray="1,1.2"/>
<g stroke="#ff0000" stroke-width="1.1"></g>
<path d="M65.46,118.08L67.86,121.28L65.46,124.48L63.06,121.28Z" fill="#ff0000"/>
<path d="M73.45,121.17L75.85,124.37L73.45,127.57L71.05,124.37Z" fill="#ff0000"/>
<path d="M81.43,125.01L83.83,128.21L81.43,131.41L79.03,128.21Z" fill="#ff0000"/>
<path d="M89.42,129.33L91.82,132.53L89.42,135.73L87.02,132.53Z" fill="#ff0000"/>
<path d="M97.40,133.88L99.80,137.08L97.40,140.28L95.00,137.08Z" fill="#ff0000"/>
<path d="M105.39,137.11L107.79,140.31L105.39,143.51L102.99,140.31Z" fill="#ff0000"/>
<path d="M113.37,140.29L115.77,143.49L113.37,146.69L110.97,143.49Z" fill="#ff0000"/>
<path d="M121.36,144.58L123.76,147.78L121.36,150.98L118.96,147.78Z" fill="#ff0000"/>
<path d="M129.34,148.04L131.74,151.24L129.34,154.44L126.94,151.24Z" fill="#ff0000"/>
<path d="M137.33,151.59L139.73,154.79L137.33,157.99L134.93,154.79Z" fill="#ff0000"/>
<path d="M145.31,154.96L147.71,158.16L145.31,161.36L142.91,158.16Z" fill="#ff0000"/>
<path d="M153.30,158.75L155.70,161.95L153.30,165.15L150.90,161.95Z" fill="#ff0000"/>
<path d="M161.28,161.39L163.68,164.59L161.28,167.79L158.88,164.59Z" fill="#ff0000"/>
<path d="M169.27,164.51L171.67,167.71L169.27,170.91L166.87,167.71Z" fill="#ff0000"/>
<path d="M177.25,168.02L179.65,171.22L177.25,174.42L174.85,171.22Z" fill="#ff0000"/>
<path d="M185.24,170.89L187.64,174.09L185.24,177.29L182.84,174.09Z" fill="#ff0000"/>
<path d="M193.22,174.64L195.62,177.84L193.22,181.04L190.82,177.84Z" fill="#ff0000"/>
<path d="M201.21,177.83L203.61,181.03L201.21,184.23L198.81,181.03Z" fill="#ff0000"/>
<path d="M209.19,180.77L211.59,183.97L209.19,187.17L206.79,183.97Z" fill="#ff0000"/>
<path d="M217.18,184.92L219.58,188.12L217.18,191.32L214.78,188.12Z" fill="#ff0000"/>
<path d="M225.16,186.99L227.56,190.19L225.16,193.39L222.76,190.19Z" fill="#ff0000"/>
<path d="M233.15,189.68L235.55,192.88L233.15,196.08L230.75,192.88Z" fill="#ff0000"/>
<path d="M241.13,192.50L243.53,195.70L241.13,198.90L238.73,195.70Z" fill="#ff0000"/>
<path d="M249.12,196.15L251.52,199.35L249.12,202.55L246.72,199.35Z" fill="#ff0000"/>
<path d="M257.10,199.66L259.50,202.86L257.10,206.06L254.70,202.86Z" fill="#ff0000"/>
<path d="M265.09,202.19L267.49,205.39L265.09,208.59L262.69,205.39Z" fill="#ff0000"/>
<path d="M277.06,208.83L279.46,212.03L277.06,215.23L274.66,212.03Z" fill="#ff0000"/>
<path d="M293.03,214.85L295.43,218.05L293.03,221.25L290.63,218.05Z" fill="#ff0000"/>
<path d="M309.00,219.86L311.40,223.06L309.00,226.26L306.61,223.06Z" fill="#ff0000"/>
<path d="M324.97,229.91L327.37,233.11L324.97,236.31L322.57,233.11Z" fill="#ff0000"/>
<path d="M340.94,232.89L343.34,236.09L340.94,239.29L338.55,236.09Z" fill="#ff0000"/>
<path d="M356.91,223.61L359.31,226.81L356.91,230.01L354.51,226.81Z" fill="#ff0000"/>
</g>
<g stroke="#000" stroke-width="1.1" fill="none">
<rect x="45.5" y="17.5" width="325.8" height="460"/>
<line x1="45.5" y1="317.3" x2="371.3" y2="317.3"/>
</g>
<g stroke="#000"><line x1="61.47" y1="17.50" x2="61.47" y2="19.50" stroke-width="1.0"/><line x1="61.47" y1="317.30" x2="61.47" y2="315.30" stroke-width="1.0"/><line x1="61.47" y1="317.30" x2="61.47" y2="318.90" stroke-width="1.0"/><line x1="61.47" y1="477.50" x2="61.47" y2="475.90" stroke-width="1.0"/><line x1="77.44" y1="17.50" x2="77.44" y2="21.50" stroke-width="1.0"/><line x1="77.44" y1="317.30" x2="77.44" y2="313.30" stroke-width="1.0"/><line x1="77.44" y1="317.30" x2="77.44" y2="320.50" stroke-width="1.0"/><line x1="77.44" y1="477.50" x2="77.44" y2="474.30" stroke-width="1.0"/><line x1="93.41" y1="17.50" x2="93.41" y2="19.50" stroke-width="1.0"/><line x1="93.41" y1="317.30" x2="93.41" y2="315.30" stroke-width="1.0"/><line x1="93.41" y1="317.30" x2="93.41" y2="318.90" stroke-width="1.0"/><line x1="93.41" y1="477.50" x2="93.41" y2="475.90" stroke-width="1.0"/><line x1="109.38" y1="17.50" x2="109.38" y2="21.50" stroke-width="1.0"/><line x1="109.38" y1="317.30" x2="109.38" y2="313.30" stroke-width="1.0"/><line x1="109.38" y1="317.30" x2="109.38" y2="320.50" stroke-width="1.0"/><line x1="109.38" y1="477.50" x2="109.38" y2="474.30" stroke-width="1.0"/><line x1="125.35" y1="17.50" x2="125.35" y2="19.50" stroke-width="1.0"/><line x1="125.35" y1="317.30" x2="125.35" y2="315.30" stroke-width="1.0"/><line x1="125.35" y1="317.30" x2="125.35" y2="318.90" stroke-width="1.0"/><line x1="125.35" y1="477.50" x2="125.35" y2="475.90" stroke-width="1.0"/><line x1="141.32" y1="17.50" x2="141.32" y2="21.50" stroke-width="1.0"/><line x1="141.32" y1="317.30" x2="141.32" y2="313.30" stroke-width="1.0"/><line x1="141.32" y1="317.30" x2="141.32" y2="320.50" stroke-width="1.0"/><line x1="141.32" y1="477.50" x2="141.32" y2="474.30" stroke-width="1.0"/><line x1="157.29" y1="17.50" x2="157.29" y2="19.50" stroke-width="1.0"/><line x1="157.29" y1="317.30" x2="157.29" y2="315.30" stroke-width="1.0"/><line x1="157.29" y1="317.30" x2="157.29" y2="318.90" stroke-width="1.0"/><line x1="157.29" y1="477.50" x2="157.29" y2="475.90" stroke-width="1.0"/><line x1="173.26" y1="17.50" x2="173.26" y2="21.50" stroke-width="1.0"/><line x1="173.26" y1="317.30" x2="173.26" y2="313.30" stroke-width="1.0"/><line x1="173.26" y1="317.30" x2="173.26" y2="320.50" stroke-width="1.0"/><line x1="173.26" y1="477.50" x2="173.26" y2="474.30" stroke-width="1.0"/><line x1="189.23" y1="17.50" x2="189.23" y2="19.50" stroke-width="1.0"/><line x1="189.23" y1="317.30" x2="189.23" y2="315.30" stroke-width="1.0"/><line x1="189.23" y1="317.30" x2="189.23" y2="318.90" stroke-width="1.0"/><line x1="189.23" y1="477.50" x2="189.23" y2="475.90" stroke-width="1.0"/><line x1="205.20" y1="17.50" x2="205.20" y2="25.50" stroke-width="1.0"/><line x1="205.20" y1="317.30" x2="205.20" y2="309.30" stroke-width="1.0"/><line x1="205.20" y1="317.30" x2="205.20" y2="323.70" stroke-width="1.0"/><line x1="205.20" y1="477.50" x2="205.20" y2="471.10" stroke-width="1.0"/><line x1="221.17" y1="17.50" x2="221.17" y2="19.50" stroke-width="1.0"/><line x1="221.17" y1="317.30" x2="221.17" y2="315.30" stroke-width="1.0"/><line x1="221.17" y1="317.30" x2="221.17" y2="318.90" stroke-width="1.0"/><line x1="221.17" y1="477.50" x2="221.17" y2="475.90" stroke-width="1.0"/><line x1="237.14" y1="17.50" x2="237.14" y2="21.50" stroke-width="1.0"/><line x1="237.14" y1="317.30" x2="237.14" y2="313.30" stroke-width="1.0"/><line x1="237.14" y1="317.30" x2="237.14" y2="320.50" stroke-width="1.0"/><line x1="237.14" y1="477.50" x2="237.14" y2="474.30" stroke-width="1.0"/><line x1="253.11" y1="17.50" x2="253.11" y2="19.50" stroke-width="1.0"/><line x1="253.11" y1="317.30" x2="253.11" y2="315.30" stroke-width="1.0"/><line x1="253.11" y1="317.30" x2="253.11" y2="318.90" stroke-width="1.0"/><line x1="253.11" y1="477.50" x2="253.11" y2="475.90" stroke-width="1.0"/><line x1="269.08" y1="17.50" x2="269.08" y2="21.50" stroke-width="1.0"/><line x1="269.08" y1="317.30" x2="269.08" y2="313.30" stroke-width="1.0"/><line x1="269.08" y1="317.30" x2="269.08" y2="320.50" stroke-width="1.0"/><line x1="269.08" y1="477.50" x2="269.08" y2="474.30" stroke-width="1.0"/><line x1="285.05" y1="17.50" x2="285.05" y2="19.50" stroke-width="1.0"/><line x1="285.05" y1="317.30" x2="285.05" y2="315.30" stroke-width="1.0"/><line x1="285.05" y1="317.30" x2="285.05" y2="318.90" stroke-width="1.0"/><line x1="285.05" y1="477.50" x2="285.05" y2="475.90" stroke-width="1.0"/><line x1="301.02" y1="17.50" x2="301.02" y2="21.50" stroke-width="1.0"/><line x1="301.02" y1="317.30" x2="301.02" y2="313.30" stroke-width="1.0"/><line x1="301.02" y1="317.30" x2="301.02" y2="320.50" stroke-width="1.0"/><line x1="301.02" y1="477.50" x2="301.02" y2="474.30" stroke-width="1.0"/><line x1="316.99" y1="17.50" x2="316.99" y2="19.50" stroke-width="1.0"/><line x1="316.99" y1="317.30" x2="316.99" y2="315.30" stroke-width="1.0"/><line x1="316.99" y1="317.30" x2="316.99" y2="318.90" stroke-width="1.0"/><line x1="316.99" y1="477.50" x2="316.99" y2="475.90" stroke-width="1.0"/><line x1="332.96" y1="17.50" x2="332.96" y2="21.50" stroke-width="1.0"/><line x1="332.96" y1="317.30" x2="332.96" y2="313.30" stroke-width="1.0"/><line x1="332.96" y1="317.30" x2="332.96" y2="320.50" stroke-width="1.0"/><line x1="332.96" y1="477.50" x2="332.96" y2="474.30" stroke-width="1.0"/><line x1="348.93" y1="17.50" x2="348.93" y2="19.50" stroke-width="1.0"/><line x1="348.93" y1="317.30" x2="348.93" y2="315.30" stroke-width="1.0"/><line x1="348.93" y1="317.30" x2="348.93" y2="318.90" stroke-width="1.0"/><line x1="348.93" y1="477.50" x2="348.93" y2="475.90" stroke-width="1.0"/><line x1="364.90" y1="17.50" x2="364.90" y2="25.50" stroke-width="1.0"/><line x1="364.90" y1="317.30" x2="364.90" y2="309.30" stroke-width="1.0"/><line x1="364.90" y1="317.30" x2="364.90" y2="323.70" stroke-width="1.0"/><line x1="364.90" y1="477.50" x2="364.90" y2="471.10" stroke-width="1.0"/><line x1="45.50" y1="314.35" x2="51.50" y2="314.35" stroke-width="1.0"/><line x1="371.30" y1="314.35" x2="365.30" y2="314.35" stroke-width="1.0"/><line x1="45.50" y1="311.21" x2="51.50" y2="311.21" stroke-width="1.0"/><line x1="371.30" y1="311.21" x2="365.30" y2="311.21" stroke-width="1.0"/><line x1="45.50" y1="308.43" x2="51.50" y2="308.43" stroke-width="1.0"/><line x1="371.30" y1="308.43" x2="365.30" y2="308.43" stroke-width="1.0"/><line x1="45.50" y1="305.95" x2="57.50" y2="305.95" stroke-width="1.0"/><line x1="371.30" y1="305.95" x2="359.30" y2="305.95" stroke-width="1.0"/><line x1="45.50" y1="289.62" x2="51.50" y2="289.62" stroke-width="1.0"/><line x1="371.30" y1="289.62" x2="365.30" y2="289.62" stroke-width="1.0"/><line x1="45.50" y1="280.07" x2="51.50" y2="280.07" stroke-width="1.0"/><line x1="371.30" y1="280.07" x2="365.30" y2="280.07" stroke-width="1.0"/><line x1="45.50" y1="273.29" x2="51.50" y2="273.29" stroke-width="1.0"/><line x1="371.30" y1="273.29" x2="365.30" y2="273.29" stroke-width="1.0"/><line x1="45.50" y1="268.03" x2="51.50" y2="268.03" stroke-width="1.0"/><line x1="371.30" y1="268.03" x2="365.30" y2="268.03" stroke-width="1.0"/><line x1="45.50" y1="263.74" x2="51.50" y2="263.74" stroke-width="1.0"/><line x1="371.30" y1="263.74" x2="365.30" y2="263.74" stroke-width="1.0"/><line x1="45.50" y1="260.10" x2="51.50" y2="260.10" stroke-width="1.0"/><line x1="371.30" y1="260.10" x2="365.30" y2="260.10" stroke-width="1.0"/><line x1="45.50" y1="256.96" x2="51.50" y2="256.96" stroke-width="1.0"/><line x1="371.30" y1="256.96" x2="365.30" y2="256.96" stroke-width="1.0"/><line x1="45.50" y1="254.18" x2="51.50" y2="254.18" stroke-width="1.0"/><line x1="371.30" y1="254.18" x2="365.30" y2="254.18" stroke-width="1.0"/><line x1="45.50" y1="251.70" x2="57.50" y2="251.70" stroke-width="1.0"/><line x1="371.30" y1="251.70" x2="359.30" y2="251.70" stroke-width="1.0"/><line x1="45.50" y1="235.37" x2="51.50" y2="235.37" stroke-width="1.0"/><line x1="371.30" y1="235.37" x2="365.30" y2="235.37" stroke-width="1.0"/><line x1="45.50" y1="225.82" x2="51.50" y2="225.82" stroke-width="1.0"/><line x1="371.30" y1="225.82" x2="365.30" y2="225.82" stroke-width="1.0"/><line x1="45.50" y1="219.04" x2="51.50" y2="219.04" stroke-width="1.0"/><line x1="371.30" y1="219.04" x2="365.30" y2="219.04" stroke-width="1.0"/><line x1="45.50" y1="213.78" x2="51.50" y2="213.78" stroke-width="1.0"/><line x1="371.30" y1="213.78" x2="365.30" y2="213.78" stroke-width="1.0"/><line x1="45.50" y1="209.49" x2="51.50" y2="209.49" stroke-width="1.0"/><line x1="371.30" y1="209.49" x2="365.30" y2="209.49" stroke-width="1.0"/><line x1="45.50" y1="205.85" x2="51.50" y2="205.85" stroke-width="1.0"/><line x1="371.30" y1="205.85" x2="365.30" y2="205.85" stroke-width="1.0"/><line x1="45.50" y1="202.71" x2="51.50" y2="202.71" stroke-width="1.0"/><line x1="371.30" y1="202.71" x2="365.30" y2="202.71" stroke-width="1.0"/><line x1="45.50" y1="199.93" x2="51.50" y2="199.93" stroke-width="1.0"/><line x1="371.30" y1="199.93" x2="365.30" y2="199.93" stroke-width="1.0"/><line x1="45.50" y1="197.45" x2="57.50" y2="197.45" stroke-width="1.0"/><line x1="371.30" y1="197.45" x2="359.30" y2="197.45" stroke-width="1.0"/><line x1="45.50" y1="181.12" x2="51.50" y2="181.12" stroke-width="1.0"/><line x1="371.30" y1="181.12" x2="365.30" y2="181.12" stroke-width="1.0"/><line x1="45.50" y1="171.57" x2="51.50" y2="171.57" stroke-width="1.0"/><line x1="371.30" y1="171.57" x2="365.30" y2="171.57" stroke-width="1.0"/><line x1="45.50" y1="164.79" x2="51.50" y2="164.79" stroke-width="1.0"/><line x1="371.30" y1="164.79" x2="365.30" y2="164.79" stroke-width="1.0"/><line x1="45.50" y1="159.53" x2="51.50" y2="159.53" stroke-width="1.0"/><line x1="371.30" y1="159.53" x2="365.30" y2="159.53" stroke-width="1.0"/><line x1="45.50" y1="155.24" x2="51.50" y2="155.24" stroke-width="1.0"/><line x1="371.30" y1="155.24" x2="365.30" y2="155.24" stroke-width="1.0"/><line x1="45.50" y1="151.60" x2="51.50" y2="151.60" stroke-width="1.0"/><line x1="371.30" y1="151.60" x2="365.30" y2="151.60" stroke-width="1.0"/><line x1="45.50" y1="148.46" x2="51.50" y2="148.46" stroke-width="1.0"/><line x1="371.30" y1="148.46" x2="365.30" y2="148.46" stroke-width="1.0"/><line x1="45.50" y1="145.68" x2="51.50" y2="145.68" stroke-width="1.0"/><line x1="371.30" y1="145.68" x2="365.30" y2="145.68" stroke-width="1.0"/><line x1="45.50" y1="143.20" x2="57.50" y2="143.20" stroke-width="1.0"/><line x1="371.30" y1="143.20" x2="359.30" y2="143.20" stroke-width="1.0"/><line x1="45.50" y1="126.87" x2="51.50" y2="126.87" stroke-width="1.0"/><line x1="371.30" y1="126.87" x2="365.30" y2="126.87" stroke-width="1.0"/><line x1="45.50" y1="117.32" x2="51.50" y2="117.32" stroke-width="1.0"/><line x1="371.30" y1="117.32" x2="365.30" y2="117.32" stroke-width="1.0"/><line x1="45.50" y1="110.54" x2="51.50" y2="110.54" stroke-width="1.0"/><line x1="371.30" y1="110.54" x2="365.30" y2="110.54" stroke-width="1.0"/><line x1="45.50" y1="105.28" x2="51.50" y2="105.28" stroke-width="1.0"/><line x1="371.30" y1="105.28" x2="365.30" y2="105.28" stroke-width="1.0"/><line x1="45.50" y1="100.99" x2="51.50" y2="100.99" stroke-width="1.0"/><line x1="371.30" y1="100.99" x2="365.30" y2="100.99" stroke-width="1.0"/><line x1="45.50" y1="97.35" x2="51.50" y2="97.35" stroke-width="1.0"/><line x1="371.30" y1="97.35" x2="365.30" y2="97.35" stroke-width="1.0"/><line x1="45.50" y1="94.21" x2="51.50" y2="94.21" stroke-width="1.0"/><line x1="371.30" y1="94.21" x2="365.30" y2="94.21" stroke-width="1.0"/><line x1="45.50" y1="91.43" x2="51.50" y2="91.43" stroke-width="1.0"/><line x1="371.30" y1="91.43" x2="365.30" y2="91.43" stroke-width="1.0"/><line x1="45.50" y1="88.95" x2="57.50" y2="88.95" stroke-width="1.0"/><line x1="371.30" y1="88.95" x2="359.30" y2="88.95" stroke-width="1.0"/><line x1="45.50" y1="72.62" x2="51.50" y2="72.62" stroke-width="1.0"/><line x1="371.30" y1="72.62" x2="365.30" y2="72.62" stroke-width="1.0"/><line x1="45.50" y1="63.07" x2="51.50" y2="63.07" stroke-width="1.0"/><line x1="371.30" y1="63.07" x2="365.30" y2="63.07" stroke-width="1.0"/><line x1="45.50" y1="56.29" x2="51.50" y2="56.29" stroke-width="1.0"/><line x1="371.30" y1="56.29" x2="365.30" y2="56.29" stroke-width="1.0"/><line x1="45.50" y1="51.03" x2="51.50" y2="51.03" stroke-width="1.0"/><line x1="371.30" y1="51.03" x2="365.30" y2="51.03" stroke-width="1.0"/><line x1="45.50" y1="46.74" x2="51.50" y2="46.74" stroke-width="1.0"/><line x1="371.30" y1="46.74" x2="365.30" y2="46.74" stroke-width="1.0"/><line x1="45.50" y1="43.10" x2="51.50" y2="43.10" stroke-width="1.0"/><line x1="371.30" y1="43.10" x2="365.30" y2="43.10" stroke-width="1.0"/><line x1="45.50" y1="39.96" x2="51.50" y2="39.96" stroke-width="1.0"/><line x1="371.30" y1="39.96" x2="365.30" y2="39.96" stroke-width="1.0"/><line x1="45.50" y1="37.18" x2="51.50" y2="37.18" stroke-width="1.0"/><line x1="371.30" y1="37.18" x2="365.30" y2="37.18" stroke-width="1.0"/><line x1="45.50" y1="34.70" x2="57.50" y2="34.70" stroke-width="1.0"/><line x1="371.30" y1="34.70" x2="359.30" y2="34.70" stroke-width="1.0"/><line x1="45.50" y1="18.37" x2="51.50" y2="18.37" stroke-width="1.0"/><line x1="371.30" y1="18.37" x2="365.30" y2="18.37" stroke-width="1.0"/><line x1="45.50" y1="458.91" x2="52.50" y2="458.91" stroke-width="1.0"/><line x1="371.30" y1="458.91" x2="364.30" y2="458.91" stroke-width="1.0"/><line x1="45.50" y1="442.84" x2="50.50" y2="442.84" stroke-width="1.0"/><line x1="371.30" y1="442.84" x2="366.30" y2="442.84" stroke-width="1.0"/><line x1="45.50" y1="429.25" x2="50.50" y2="429.25" stroke-width="1.0"/><line x1="371.30" y1="429.25" x2="366.30" y2="429.25" stroke-width="1.0"/><line x1="45.50" y1="417.47" x2="50.50" y2="417.47" stroke-width="1.0"/><line x1="371.30" y1="417.47" x2="366.30" y2="417.47" stroke-width="1.0"/><line x1="45.50" y1="407.09" x2="50.50" y2="407.09" stroke-width="1.0"/><line x1="371.30" y1="407.09" x2="366.30" y2="407.09" stroke-width="1.0"/><line x1="45.50" y1="397.80" x2="52.50" y2="397.80" stroke-width="1.0"/><line x1="371.30" y1="397.80" x2="364.30" y2="397.80" stroke-width="1.0"/><line x1="45.50" y1="389.40" x2="50.50" y2="389.40" stroke-width="1.0"/><line x1="371.30" y1="389.40" x2="366.30" y2="389.40" stroke-width="1.0"/><line x1="45.50" y1="381.73" x2="50.50" y2="381.73" stroke-width="1.0"/><line x1="371.30" y1="381.73" x2="366.30" y2="381.73" stroke-width="1.0"/><line x1="45.50" y1="374.67" x2="50.50" y2="374.67" stroke-width="1.0"/><line x1="371.30" y1="374.67" x2="366.30" y2="374.67" stroke-width="1.0"/><line x1="45.50" y1="368.14" x2="50.50" y2="368.14" stroke-width="1.0"/><line x1="371.30" y1="368.14" x2="366.30" y2="368.14" stroke-width="1.0"/><line x1="45.50" y1="362.05" x2="52.50" y2="362.05" stroke-width="1.0"/><line x1="371.30" y1="362.05" x2="364.30" y2="362.05" stroke-width="1.0"/><line x1="45.50" y1="356.36" x2="50.50" y2="356.36" stroke-width="1.0"/><line x1="371.30" y1="356.36" x2="366.30" y2="356.36" stroke-width="1.0"/><line x1="45.50" y1="351.02" x2="50.50" y2="351.02" stroke-width="1.0"/><line x1="371.30" y1="351.02" x2="366.30" y2="351.02" stroke-width="1.0"/><line x1="45.50" y1="345.98" x2="50.50" y2="345.98" stroke-width="1.0"/><line x1="371.30" y1="345.98" x2="366.30" y2="345.98" stroke-width="1.0"/><line x1="45.50" y1="341.21" x2="50.50" y2="341.21" stroke-width="1.0"/><line x1="371.30" y1="341.21" x2="366.30" y2="341.21" stroke-width="1.0"/><line x1="45.50" y1="336.69" x2="52.50" y2="336.69" stroke-width="1.0"/><line x1="371.30" y1="336.69" x2="364.30" y2="336.69" stroke-width="1.0"/><line x1="45.50" y1="332.39" x2="50.50" y2="332.39" stroke-width="1.0"/><line x1="371.30" y1="332.39" x2="366.30" y2="332.39" stroke-width="1.0"/><line x1="45.50" y1="328.29" x2="50.50" y2="328.29" stroke-width="1.0"/><line x1="371.30" y1="328.29" x2="366.30" y2="328.29" stroke-width="1.0"/><line x1="45.50" y1="324.37" x2="50.50" y2="324.37" stroke-width="1.0"/><line x1="371.30" y1="324.37" x2="366.30" y2="324.37" stroke-width="1.0"/><line x1="45.50" y1="320.62" x2="50.50" y2="320.62" stroke-width="1.0"/><line x1="371.30" y1="320.62" x2="366.30" y2="320.62" stroke-width="1.0"/></g>
<text x="51.3" y="13.7" font-size="12" text-anchor="start" fill="#000" font-family="'Liberation Sans', sans-serif" >7000 GeV pp</text>
<text x="366.6" y="14.3" font-size="12" text-anchor="end" fill="#000" font-family="'Liberation Sans', sans-serif" >Soft QCD</text>
<text x="130" y="43.6" font-size="12" text-anchor="start" fill="#000" font-family="'Liberation Sans', sans-serif" >Momentum fraction z<tspan font-size="9.6">(track jets)</tspan></text>
<text x="40" y="40.0" font-size="11" text-anchor="end" fill="#000" font-family="'Liberation Sans', sans-serif" >10<tspan font-size="8" dy="-4.5">3</tspan></text>
<text x="40" y="94.0" font-size="11" text-anchor="end" fill="#000" font-family="'Liberation Sans', sans-serif" >10<tspan font-size="8" dy="-4.5">2</tspan></text>
<text x="40" y="148.0" font-size="11" text-anchor="end" fill="#000" font-family="'Liberation Sans', sans-serif" >10</text>
<text x="40" y="202.0" font-size="11" text-anchor="end" fill="#000" font-family="'Liberation Sans', sans-serif" >1</text>
<text x="40" y="256.3" font-size="11" text-anchor="end" fill="#000" font-family="'Liberation Sans', sans-serif" >10<tspan font-size="8" dy="-4.5">-1</tspan></text>
<text x="40" y="310.5" font-size="11" text-anchor="end" fill="#000" font-family="'Liberation Sans', sans-serif" >10<tspan font-size="8" dy="-4.5">-2</tspan></text>
<text x="38" y="340.8" font-size="11" text-anchor="end" fill="#000" font-family="'Liberation Sans', sans-serif" >2</text>
<text x="38" y="401.6" font-size="11" text-anchor="end" fill="#000" font-family="'Liberation Sans', sans-serif" >1</text>
<text x="38.5" y="462.6" font-size="11.5" text-anchor="end" fill="#000" font-family="'Liberation Sans', sans-serif" >0.5</text>
<text x="374" y="340.9" font-size="11" text-anchor="start" fill="#000" font-family="'Liberation Sans', sans-serif" >2</text>
<text x="374" y="402.6" font-size="11" text-anchor="start" fill="#000" font-family="'Liberation Sans', sans-serif" >1</text>
<text x="374" y="462.4" font-size="11.5" text-anchor="start" fill="#000" font-family="'Liberation Sans', sans-serif" >0.5</text>
<text x="46" y="489" font-size="11" text-anchor="middle" fill="#000" font-family="'Liberation Sans', sans-serif" >0</text>
<text x="205.4" y="489.2" font-size="11.5" text-anchor="middle" fill="#000" font-family="'Liberation Sans', sans-serif" >0.5</text>
<text x="365.2" y="489" font-size="11" text-anchor="middle" fill="#000" font-family="'Liberation Sans', sans-serif" >1</text>
<text x="372.8" y="503.7" font-size="12.5" text-anchor="end" fill="#000" font-family="'Liberation Sans', sans-serif" >Charged Particle z</text>
<text transform="translate(15.5,17) rotate(-90)" font-size="12" text-anchor="end" font-family="'Liberation Sans', sans-serif">(1/Njet)dN/dz</text>
<text transform="translate(17.8,366.2) rotate(-90)" font-size="9" text-anchor="end" font-family="'Liberation Sans', sans-serif">Ratio to ATLAS</text>
<text transform="translate(380.3,18.9) rotate(-90)" font-size="9.3" text-anchor="end" fill="#808080" font-family="'Liberation Sans', sans-serif">Rivet 3.1.10, ≥ 400k events</text>
<text transform="translate(381.4,171.7) rotate(-90)" font-size="9.4" text-anchor="end" fill="#808080" font-family="'Liberation Sans', sans-serif">mcplots.cern.ch [arXiv:1306.3436]</text>
<text x="168.3" y="302.1" font-size="8.9" text-anchor="start" fill="#999" font-family="'Liberation Sans', sans-serif" textLength="78.4" lengthAdjust="spacingAndGlyphs">ATLAS_2011_I919017</text>
<rect x="73.60" y="221.50" width="5.6" height="5.6" fill="#000"/>
<line x1="63.8" y1="236.9" x2="88.7" y2="236.9" stroke="#ac5a0c" stroke-width="1.1" stroke-dasharray="2.5,2"/><circle cx="76.40" cy="236.90" r="2.5" fill="none" stroke="#ac5a0c" stroke-width="1.1"/>
<line x1="63.8" y1="249.8" x2="88.7" y2="249.8" stroke="#359e18" stroke-width="1.1" stroke-dasharray="2.5,2"/><rect x="74.10" y="247.50" width="4.6" height="4.6" fill="none" stroke="#359e18" stroke-width="1.15"/>
<line x1="63.8" y1="262.8" x2="88.7" y2="262.8" stroke="#0000f0" stroke-width="1.3"/><path d="M76.40,259.90L79.10,265.50L73.70,265.50Z" fill="#0000f0"/>
<line x1="63.8" y1="275.8" x2="88.7" y2="275.8" stroke="#ff0000" stroke-width="1.1" stroke-dasharray="1,1.2"/><path d="M76.40,272.60L78.80,275.80L76.40,279.00L74.00,275.80Z" fill="#ff0000"/>
<text x="94.3" y="226.6" font-size="9.3" text-anchor="start" fill="#000" font-family="'Liberation Sans', sans-serif" >ATLAS</text>
<text x="94.3" y="239.6" font-size="9.3" text-anchor="start" fill="#000" font-family="'Liberation Sans', sans-serif" >Herwig++ 2.5.0 default</text>
<text x="94.3" y="252.2" font-size="9.3" text-anchor="start" fill="#000" font-family="'Liberation Sans', sans-serif" >Herwig 7.2.1 default</text>
<text x="94.3" y="264.9" font-size="9.3" text-anchor="start" fill="#000" font-family="'Liberation Sans', sans-serif" >Pythia 8.308 default</text>
<text x="94.3" y="278.5" font-size="9.3" text-anchor="start" fill="#000" font-family="'Liberation Sans', sans-serif" >Sherpa 2.2.9 default</text>
</svg></body></html>
